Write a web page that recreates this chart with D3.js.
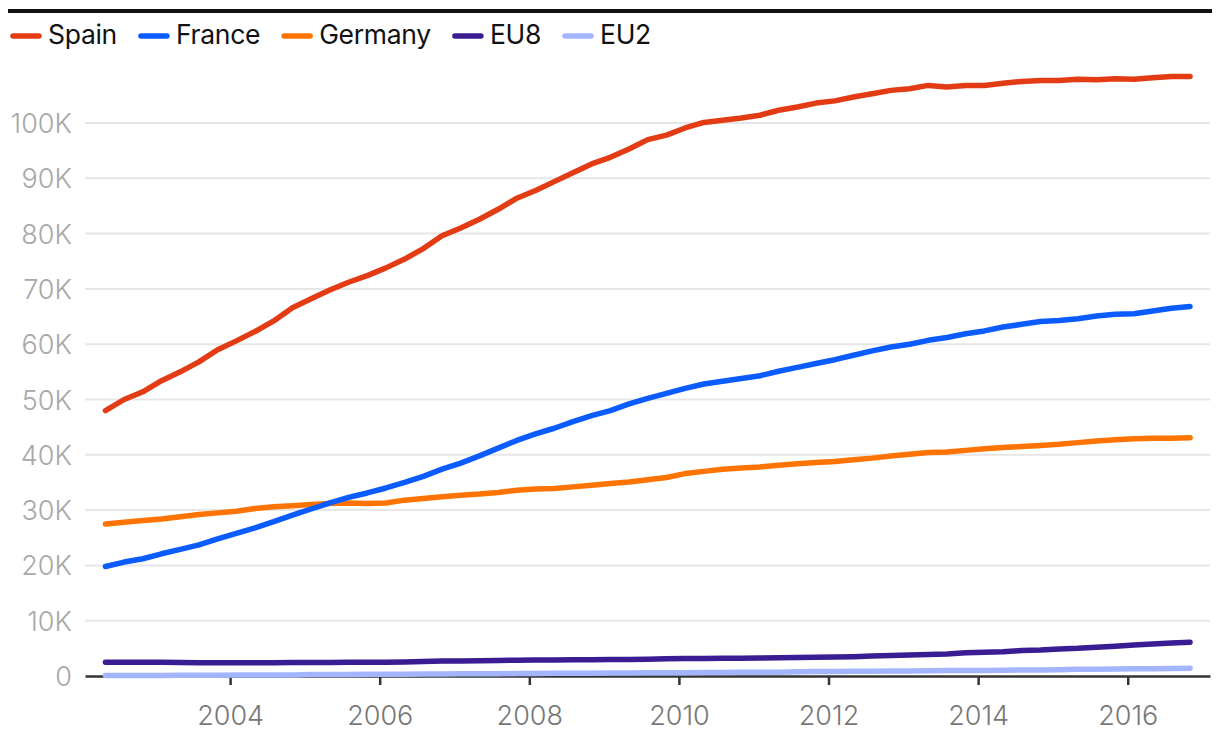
<!DOCTYPE html>
<html><head><meta charset="utf-8">
<script src="https://cdn.jsdelivr.net/npm/d3@7"></script>
<style>
body{margin:0;background:#fff;font-family:"Inter","Lato",sans-serif;}
</style></head><body>
<svg id="c" width="1220" height="744"></svg>
<script>
// Quarterly observations, first at 2002.33, step 0.25 year
const startYear = 2002 + 1/3;
const step = 0.25;
const seriesNames = ["Spain","France","Germany","EU8","EU2"];
const colors = ["#e33b14","#0a5cff","#ff7400","#3a1d92","#a3b5ff"];
const spain = [48.0,50.0,51.4,53.4,55.0,56.8,59.0,60.6,62.3,64.2,66.6,68.2,69.8,71.2,72.4,73.8,75.4,77.3,79.6,81.0,82.6,84.4,86.4,87.8,89.4,91.0,92.6,93.8,95.3,97.0,97.8,99.1,100.1,100.5,100.9,101.4,102.3,102.9,103.6,104.0,104.7,105.3,105.9,106.2,106.8,106.5,106.8,106.8,107.2,107.5,107.7,107.7,107.9,107.8,108.0,107.9,108.2,108.4,108.4];
const france = [19.8,20.6,21.2,22.1,22.9,23.7,24.8,25.8,26.8,27.9,29.1,30.2,31.3,32.3,33.1,34.0,35.0,36.1,37.4,38.5,39.8,41.2,42.6,43.8,44.8,46.0,47.1,48.0,49.2,50.2,51.1,52.0,52.8,53.3,53.8,54.3,55.1,55.8,56.5,57.2,58.0,58.8,59.5,60.0,60.7,61.2,61.9,62.4,63.1,63.6,64.1,64.3,64.6,65.1,65.4,65.5,66.0,66.5,66.8];
const germany = [27.5,27.8,28.1,28.4,28.8,29.2,29.5,29.8,30.3,30.6,30.8,31.0,31.2,31.3,31.2,31.3,31.8,32.1,32.4,32.7,32.9,33.2,33.6,33.8,33.9,34.2,34.5,34.8,35.1,35.5,35.9,36.6,37.0,37.4,37.6,37.8,38.1,38.4,38.6,38.8,39.1,39.4,39.8,40.1,40.4,40.5,40.8,41.1,41.3,41.5,41.7,41.9,42.2,42.5,42.7,42.9,43.0,43.0,43.1];
const eu8 = [2.5,2.5,2.5,2.5,2.45,2.4,2.4,2.4,2.4,2.4,2.45,2.45,2.45,2.5,2.5,2.5,2.55,2.6,2.7,2.7,2.75,2.8,2.85,2.9,2.9,2.95,2.95,3.0,3.0,3.05,3.1,3.15,3.15,3.2,3.2,3.25,3.3,3.35,3.4,3.45,3.5,3.6,3.7,3.8,3.9,4.0,4.2,4.3,4.4,4.6,4.7,4.9,5.0,5.2,5.4,5.6,5.8,5.95,6.1];
const eu2 = [0.1,0.1,0.1,0.1,0.15,0.15,0.15,0.2,0.2,0.2,0.2,0.25,0.25,0.25,0.3,0.3,0.3,0.35,0.35,0.4,0.4,0.4,0.45,0.45,0.5,0.5,0.5,0.55,0.55,0.6,0.6,0.6,0.65,0.65,0.7,0.7,0.7,0.75,0.8,0.8,0.85,0.85,0.9,0.9,0.95,1.0,1.0,1.0,1.05,1.1,1.1,1.15,1.2,1.2,1.25,1.3,1.3,1.35,1.4];
const yTicks = [0,10,20,30,40,50,60,70,80,90,100];
const xTicks = [2004,2006,2008,2010,2012,2014,2016];
const allSeries = [spain,france,germany,eu8,eu2];

const svg = d3.select("#c");
const x = d3.scaleLinear().domain([2002.06, 2017.10]).range([85, 1210]);
const y = d3.scaleLinear().domain([0, 100]).range([676, 123]);

// top rule
svg.append("line").attr("x1",8).attr("x2",1212).attr("y1",11).attr("y2",11)
  .attr("stroke","#111").attr("stroke-width",4);

// legend
let lx = 10;
const lg = svg.append("g");
seriesNames.forEach((n,i)=>{
  lg.append("line").attr("x1",lx+3).attr("x2",lx+29).attr("y1",36).attr("y2",36)
    .attr("stroke",colors[i]).attr("stroke-width",5.5).attr("stroke-linecap","round");
  const t = lg.append("text").attr("x",lx+38).attr("y",43.5)
    .attr("font-size",26.5).attr("letter-spacing",-0.3).attr("fill","#111").text(n);
  lx += 38 + t.node().getComputedTextLength() + 21;
});

// grid
svg.append("g").selectAll("line").data(yTicks.filter(d=>d>0)).join("line")
  .attr("x1",85).attr("x2",1210).attr("y1",d=>y(d)).attr("y2",d=>y(d))
  .attr("stroke","#e6e6e6").attr("stroke-width",2);

// y labels
svg.append("g").selectAll("text").data(yTicks).join("text")
  .attr("x",72).attr("y",d=>y(d)+10).attr("text-anchor","end")
  .attr("font-size",27).attr("fill","#a8a8a8").attr("font-weight",300)
  .text(d=>d===0?"0":d+"K");

// x axis
const xAxis = svg.append("g").attr("transform","translate(0,676)")
  .call(d3.axisBottom(x).tickValues(xTicks).tickFormat(d3.format("d")).tickSize(9).tickSizeOuter(0));
xAxis.select(".domain").attr("stroke","#333").attr("stroke-width",2.5);
xAxis.selectAll(".tick line").attr("stroke","#333").attr("stroke-width",2.5);
xAxis.selectAll(".tick text").attr("font-size",27).attr("fill","#777").attr("font-weight",300)
  .attr("font-family","Inter, Lato, sans-serif").attr("y",49).attr("dy",0);

// lines
const line = d3.line().x((d,i)=>x(startYear+i*step)).y(d=>y(d));
const order = [4,3,2,1,0];
svg.append("g").selectAll("path").data(order).join("path")
  .attr("d",i=>line(allSeries[i])).attr("fill","none").attr("stroke",i=>colors[i])
  .attr("stroke-width",5.5).attr("stroke-linecap","round").attr("stroke-linejoin","round");
</script></body></html>
